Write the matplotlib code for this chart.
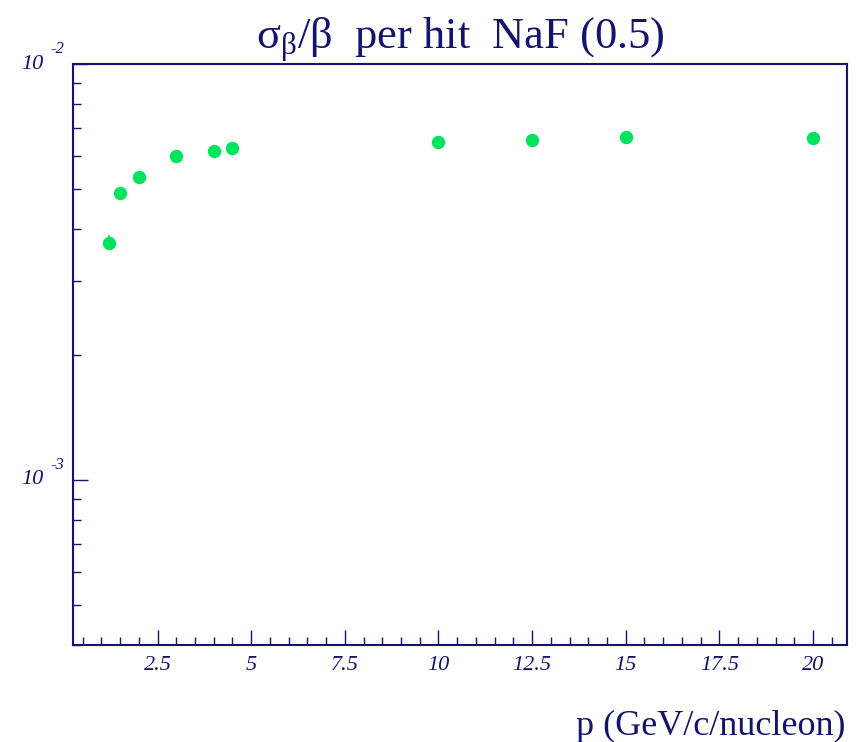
import matplotlib
matplotlib.use("Agg")
import matplotlib.pyplot as plt
import matplotlib.ticker as ticker
import numpy as np

# momentum points and resolution per hit
p = [1.2, 1.5, 2.0, 3.0, 4.0, 4.5, 10.0, 12.5, 15.0, 20.0]
sigma = [3.72e-3, 4.90e-3, 5.35e-3, 6.02e-3, 6.17e-3, 6.27e-3, 6.49e-3, 6.57e-3, 6.68e-3, 6.65e-3]
sigma_err = [1.6e-4, 8e-5, 7e-5, 6e-5, 6e-5, 6e-5, 5e-5, 5e-5, 5e-5, 5e-5]

navy = "#14146e"
green = "#00e35c"

plt.rcParams['font.family'] = ['Liberation Serif', 'DejaVu Serif']
plt.rcParams['mathtext.fontset'] = 'custom'
plt.rcParams['mathtext.rm'] = 'Liberation Serif'
plt.rcParams['mathtext.it'] = 'Liberation Serif:italic'

fig = plt.figure(figsize=(8.57, 7.42), dpi=100)
ax = fig.add_axes([0.0855, 0.1307, 0.9025, 0.783])

ax.errorbar(p, sigma, yerr=sigma_err, fmt='o', color=green, ms=8.6,
            elinewidth=1.2, capsize=0, mec=green)

ax.set_yscale('log')
ax.set_xlim(0.25, 20.9)
ax.set_ylim(4.0e-4, 1.0e-2)

# x ticks: major every 2.5, minor every 0.5, drawn inward
ax.xaxis.set_major_locator(ticker.MultipleLocator(2.5))
ax.xaxis.set_minor_locator(ticker.MultipleLocator(0.5))
ax.xaxis.set_major_formatter(ticker.FuncFormatter(lambda v, pos: "%g" % v))
ax.yaxis.set_major_locator(ticker.LogLocator(base=10))
ax.yaxis.set_minor_locator(ticker.LogLocator(base=10, subs=np.arange(2, 10)))
ax.yaxis.set_major_formatter(ticker.NullFormatter())
ax.yaxis.set_minor_formatter(ticker.NullFormatter())

ax.tick_params(axis='both', which='both', direction='in', color=navy,
               top=False, right=False)
ax.tick_params(axis='both', which='major', length=10.5, width=1.0)
ax.tick_params(axis='both', which='minor', length=5.5, width=1.0)
ax.tick_params(axis='x', which='major', pad=8, labelsize=16, labelcolor=navy)
for lab in ax.get_xticklabels():
    lab.set_fontstyle('italic')

for s in ax.spines.values():
    s.set_color(navy)
    s.set_linewidth(1.5)

# decade labels on the y axis, ROOT style: "10" with raised exponent
for dec in (-3, -2):
    ax.annotate("10", xy=(0, 10.0 ** dec), xycoords=('axes fraction', 'data'),
                xytext=(-30, 0), textcoords='offset pixels', ha='right', va='center',
                fontsize=16, style='italic', color=navy)
    ax.annotate("%d" % dec, xy=(0, 10.0 ** dec), xycoords=('axes fraction', 'data'),
                xytext=(-23, 15), textcoords='offset pixels', ha='left', va='center',
                fontsize=12, style='italic', color=navy)

fig.text(0.537, 1 - 49 / 742.0, r'$\mathrm{\sigma_{\beta}/\beta}$  per hit  NaF (0.5)',
         ha='center', va='baseline', fontsize=32, color=navy)
fig.text(845 / 857.0, 1 - 735 / 742.0, 'p (GeV/c/nucleon)',
         ha='right', va='baseline', fontsize=26, color=navy)

fig.savefig('out.png', dpi=100)
